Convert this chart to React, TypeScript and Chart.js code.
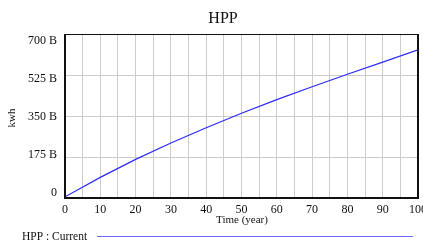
import React, { useEffect, useRef } from "react";
import { Chart, registerables } from "chart.js";

Chart.register(...registerables);

const years = [0, 10, 20, 30, 40, 50, 60, 70, 80, 90, 100];
const hppCurrent = [5, 88, 165, 235, 300, 362, 420, 475, 528, 580, 632];
const yTickValues = [0, 175, 350, 525, 700];
const yTickLabels = ["0", "175 B", "350 B", "525 B", "700 B"];
const chartTitle = "HPP";
const xTitle = "Time (year)";
const yTitle = "kwh";
const legendLabel = "HPP : Current";

const FONT = "'Liberation Serif', 'DejaVu Serif', serif";
const LINE_COLOR = "#2b2bff";

export default function App() {
  const ref = useRef<HTMLCanvasElement | null>(null);

  useEffect(() => {
    if (!ref.current) return;
    const overlay = {
      id: "overlay",
      afterDraw(chart: any) {
        const ctx = chart.ctx;
        const a = chart.chartArea;
        const ys = chart.scales.y;
        ctx.save();
        // frame
        ctx.strokeStyle = "#111";
        ctx.lineWidth = 1;
        ctx.beginPath();
        ctx.moveTo(a.left, a.top + 0.5);
        ctx.lineTo(a.right, a.top + 0.5);
        ctx.stroke();
        ctx.lineWidth = 2;
        ctx.beginPath();
        ctx.moveTo(a.left, a.top);
        ctx.lineTo(a.left, a.bottom);
        ctx.lineTo(a.right, a.bottom);
        ctx.lineTo(a.right, a.top);
        ctx.stroke();
        // y labels (Vensim-style, compressed inside frame)
        ctx.fillStyle = "#111";
        ctx.font = `12px ${FONT}`;
        ctx.textAlign = "right";
        ctx.textBaseline = "middle";
        const h = a.bottom - a.top;
        yTickValues.forEach((v, i) => {
          const p = ys.getPixelForValue(v);
          const yy = a.top + 7 + ((p - a.top) * (h - 12)) / h;
          ctx.fillText(yTickLabels[i], a.left - 8, yy);
        });
        // title
        ctx.textAlign = "center";
        ctx.font = `16px ${FONT}`;
        ctx.fillText(chartTitle, 223, 19);
        // x title
        ctx.font = `11px ${FONT}`;
        ctx.fillText(xTitle, 242, 220);
        // y title
        ctx.save();
        ctx.translate(12, 118);
        ctx.rotate(-Math.PI / 2);
        ctx.fillText(yTitle, 0, 0);
        ctx.restore();
        // legend
        ctx.textAlign = "left";
        ctx.font = `11.5px ${FONT}`;
        ctx.fillText(legendLabel, 22, 237);
        ctx.strokeStyle = "#6a6aff";
        ctx.lineWidth = 1;
        ctx.beginPath();
        ctx.moveTo(97, 236.5);
        ctx.lineTo(413, 236.5);
        ctx.stroke();
        ctx.restore();
      },
    };

    const chart = new Chart(ref.current, {
      type: "line",
      data: {
        datasets: [
          {
            label: legendLabel,
            data: years.map((x, i) => ({ x, y: hppCurrent[i] })),
            borderColor: LINE_COLOR,
            borderWidth: 1.2,
            pointRadius: 0,
            tension: 0,
            fill: false,
          },
        ],
      },
      options: {
        responsive: false,
        animation: false,
        layout: { padding: { top: 34, left: 0, right: 5, bottom: 0 } },
        plugins: {
          legend: { display: false },
          title: { display: false },
          tooltip: { enabled: false },
        },
        scales: {
          x: {
            type: "linear",
            min: 0,
            max: 100,
            afterFit(scale: any) {
              scale.height = 44;
              scale.paddingLeft = 0;
              scale.paddingRight = 0;
            },
            grid: { color: "#cdcdcd", lineWidth: 1, drawTicks: false },
            border: { display: false },
            ticks: {
              stepSize: 5,
              autoSkip: false,
              maxRotation: 0,
              padding: 5,
              color: "#111",
              font: { family: FONT, size: 12 },
              callback: (v: any) => (Number(v) % 10 === 0 ? String(v) : ""),
            },
          },
          y: {
            type: "linear",
            min: 0,
            max: 700,
            afterFit(scale: any) {
              scale.width = 65;
            },
            grid: { color: "#cdcdcd", lineWidth: 1, drawTicks: false },
            border: { display: false },
            ticks: { stepSize: 175, display: false },
          },
        },
      },
      plugins: [overlay],
    });
    return () => chart.destroy();
  }, []);

  return (
    <div style={{ position: "absolute", left: 0, top: 0, width: 423, height: 242, background: "#fff" }}>
      <canvas ref={ref} width={423} height={242} />
    </div>
  );
}
